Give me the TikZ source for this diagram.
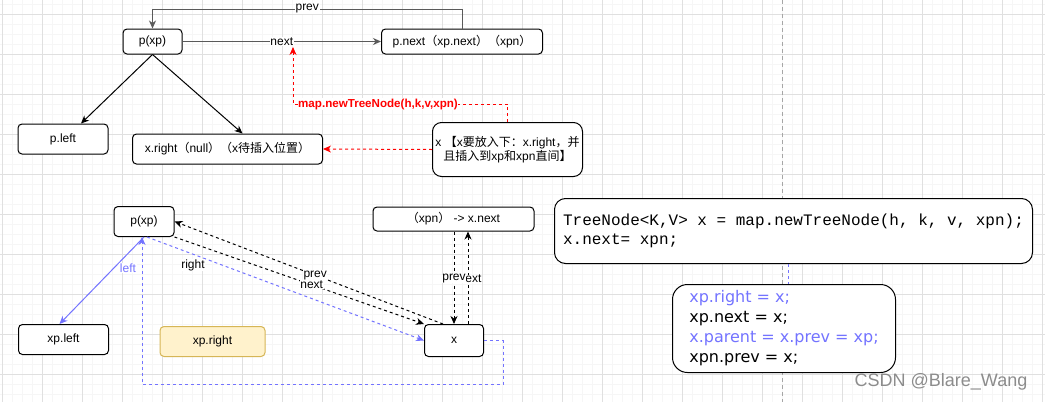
\documentclass[tikz,border=0pt]{standalone}
\usepackage{fontspec}
\setmainfont{Liberation Sans}
\newfontfamily\cjk{Noto Sans CJK SC}
\newfontfamily\codefont{Liberation Mono}
\newfontfamily\vfont{DejaVu Sans}
\usetikzlibrary{arrows.meta,calc}
\definecolor{bl}{RGB}{115,115,255}
\definecolor{gridmaj}{RGB}{224,224,224}
\definecolor{gridmin}{RGB}{246,246,246}
\definecolor{noteFill}{RGB}{255,242,204}
\definecolor{noteDraw}{RGB}{214,182,86}
\definecolor{edgegray}{RGB}{90,90,90}
\begin{document}
\begin{tikzpicture}[x=1pt,y=-1pt,
  box/.style={draw, fill=white, rounded corners=4pt, line width=1pt, inner sep=0pt,
    font=\fontsize{12}{14.5}\selectfont, align=center},
  lbl/.style={fill=white, inner sep=0.6pt, font=\fontsize{12}{14}\selectfont},
  tip/.style={-{Stealth[length=8pt,width=7pt,inset=2.5pt]}},
  edge/.style={line width=1pt},
  dsh/.style={dash pattern=on 3pt off 3pt},
]
\useasboundingbox (0,0) rectangle (1045,402);
\fill[white] (0,0) rectangle (1045,402);
% grid
\foreach \i in {0,...,104} {\draw[gridmin, line width=0.8pt] ({2.5+10*\i},0) -- ({2.5+10*\i},402);}
\foreach \j in {0,...,39} {\draw[gridmin, line width=0.8pt] (0,{4.5+10*\j}) -- (1045,{4.5+10*\j});}
\foreach \i in {0,...,26} {\draw[gridmaj, line width=0.8pt] ({2.5+40*\i},0) -- ({2.5+40*\i},402);}
\foreach \j in {0,...,9} {\draw[gridmaj, line width=0.8pt] (0,{14.5+40*\j}) -- (1045,{14.5+40*\j});}
% page break line
\draw[black!35, line width=0.8pt, dash pattern=on 4pt off 3pt] (782.5,0) -- (782.5,402);

% ---------- top part ----------
\node[box, minimum width=59pt, minimum height=25pt] (pxp) at (152.5,41.5) {p(xp)};
\node[box, minimum width=161pt, minimum height=25pt] (pnext) at (462,41.5)
  {p.next{\cjk （}xp.next{\cjk ）（}xpn{\cjk ）}};
\node[box, minimum width=90pt, minimum height=30pt] (pleft) at (63,139) {p.left};
\node[box, minimum width=190pt, minimum height=30pt] (xright) at (227.5,149)
  {x.right{\cjk （}null{\cjk ）（}x{\cjk 待插入位置）}};
\node[box, rounded corners=9pt, minimum width=150pt, minimum height=54pt] (xnote) at (507.5,149.5)
  {x {\cjk 【}x{\cjk 要放入下：}x.right{\cjk ，并}\\{\cjk 且插入到}xp{\cjk 和}xpn{\cjk 直间】}};

\draw[edge, edgegray, tip] (pnext.north) -- ++(0,-19.5) coordinate (ptop)
  -| node[lbl, text=black, pos=0.25] {prev} (pxp.north);
\draw[edge, edgegray, tip] (pxp.east) -- node[lbl, text=black] {next} (pnext.west);
\draw[edge, tip] (pxp.south) -- ($(pleft.north)+(18,0)$);
\draw[edge, tip] (pxp.south) -- ($(xright.north)+(15,0)$);

\coordinate (rtip) at (293,47);
\draw[edge, red, dsh, tip] (xnote.north) -- ++(0,-18) -| (rtip);
\node[lbl, text=red, font=\fontsize{11.6}{14}\selectfont\bfseries] (mapl) at (378,104) {map.newTreeNode(h,k,v,xpn)};
\draw[edge, red, dsh, tip] (xnote.west) -- (xright.east);

% ---------- bottom part ----------
\node[box, minimum width=60pt, minimum height=30pt] (pxp2) at (144,221.5) {p(xp)};
\node[box, minimum width=161pt, minimum height=24pt] (xpnb) at (453.5,219)
  {{\cjk （}xpn{\cjk ）} -> x.next};
\node[box, minimum width=59pt, minimum height=32pt] (xb) at (454,340.5) {x};
\node[box, minimum width=90pt, minimum height=30pt] (xpleft) at (63.5,339.5) {xp.left};
\node[box, draw=noteDraw, fill=noteFill, minimum width=105pt, minimum height=30pt] (xpright) at (212.5,341.5) {xp.right};

% left (solid blue)
\draw[edge, bl, tip] (pxp2.south) -- ($(xpleft.north)+(-4,0)$);
\node[lbl, text=bl] at (128,268) {left};
% right (dashed blue)
\draw[edge, bl, dsh, tip] ($(pxp2.south)+(3,0)$) -- (xb.west);
\node[lbl] at (193,265) {right};
% parent loop (dashed blue)
\coordinate (loopc) at (503,384);
\draw[edge, bl, dsh, tip] (xb.east) -| (loopc) -| ($(pxp2.south)+(-2,0)$);

% prev / next between xp and x
\draw[edge, dsh, tip] ($(xb.north)+(-11,0)$) -- node[lbl, pos=0.476] {prev} (pxp2.east);
\draw[edge, dsh, tip] (pxp2.south east) -- node[lbl, pos=0.55] {next} (xb.north west);

% prev / next between xpn and x
\draw[edge, dsh, tip] ($(xb.north)+(14,0)$) -- ($(xpnb.south)+(14.5,0)$);
\draw[edge, dsh, tip] ($(xpnb.south)+(0.5,0)$) -- (xb.north);
\node[lbl, inner sep=0pt] at (470,279) {next};
\node[lbl, inner sep=0pt] at (454,279) {prev};

% ---------- code boxes ----------
\node[box, rounded corners=11pt, minimum width=478pt, minimum height=65pt, align=left,
  font=\codefont\fontsize{16}{19}\selectfont] (code1) at (793.5,231)
  {TreeNode<K,V> x = map.newTreeNode(h, k, v, xpn);\\x.next= xpn;};
\node[box, rounded corners=15pt, minimum width=223pt, minimum height=88pt, align=left,
  font=\vfont\fontsize{16}{20}\selectfont] (code2) at (784,328.5)
  {\textcolor{bl}{xp.right = x;}\\xp.next = x;\\\textcolor{bl}{x.parent = x.prev = xp;}\\xpn.prev = x;};
\draw[edge, bl, dsh] ($(code1.south)+(-5.5,0)$) -- ($(code2.north)+(4,0)$);

% watermark
\node[font=\fontsize{18}{20}\selectfont, text=black!45] (wm) at (941,381.5) {CSDN @Blare\_Wang};
\end{tikzpicture}
\end{document}
